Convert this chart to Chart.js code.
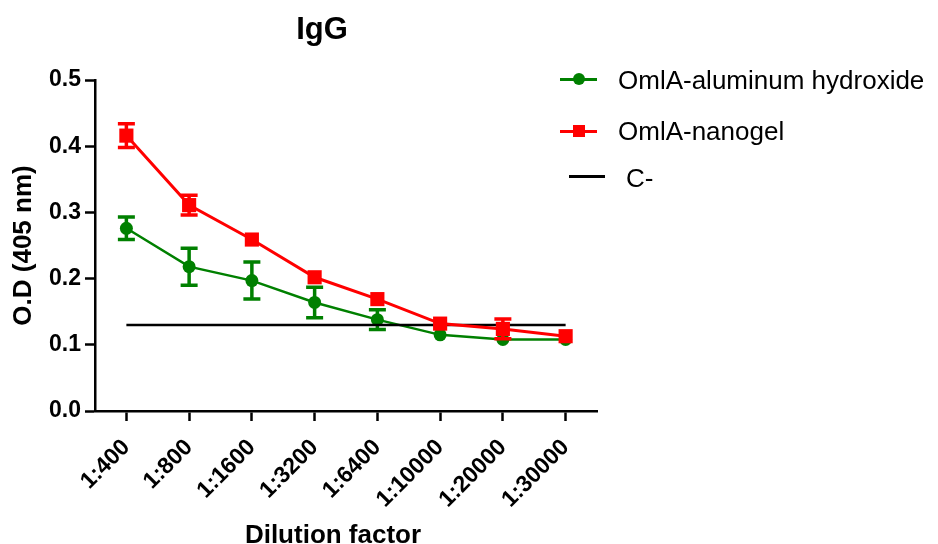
<!DOCTYPE html>
<html>
<head>
<meta charset="utf-8">
<script src="https://cdn.jsdelivr.net/npm/chart.js@4.4.1/dist/chart.umd.min.js"></script>
<style>
  body { margin: 0; background: #fff; }
  #wrap { position: relative; width: 938px; height: 544px; font-family: "Liberation Sans", Arial, sans-serif; color: #000; }
  #chart { position: absolute; left: 0; top: 0; }
  .txt { position: absolute; white-space: nowrap; }
  .title { left: 222px; width: 200px; top: 13px; text-align: center; font-weight: bold; font-size: 31px; line-height: 31px; }
  .xtitle { left: 233px; width: 200px; top: 521px; text-align: center; font-weight: bold; font-size: 26px; line-height: 26px; }
  .leg { font-size: 26px; line-height: 26px; }
  .mark { position: absolute; }
</style>
</head>
<body>
<div id="wrap">
  <canvas id="chart" width="938" height="544"></canvas>
  <div class="txt title">IgG</div>
  <div class="txt xtitle">Dilution factor</div>

  <!-- legend -->
  <div class="mark" style="left:560px;top:77.5px;width:37px;height:3px;background:#008000"></div>
  <div class="mark" style="left:573px;top:73px;width:12px;height:12px;border-radius:50%;background:#008000"></div>
  <div class="txt leg" style="left:618px;top:66.5px">OmlA-aluminum hydroxide</div>

  <div class="mark" style="left:560px;top:129.5px;width:37px;height:3px;background:#ff0000"></div>
  <div class="mark" style="left:573px;top:125px;width:12px;height:12px;background:#ff0000"></div>
  <div class="txt leg" style="left:618px;top:118px">OmlA-nanogel</div>

  <div class="mark" style="left:569px;top:175px;width:36px;height:3px;background:#000"></div>
  <div class="txt leg" style="left:626px;top:164.5px">C-</div>
</div>

<script>
// values
const dilutions = ["1:400", "1:800", "1:1600", "1:3200", "1:6400", "1:10000", "1:20000", "1:30000"];
const aluminumMean = [0.276, 0.218, 0.197, 0.164, 0.138, 0.115, 0.108, 0.108];
const aluminumErr  = [0.017, 0.028, 0.028, 0.023, 0.015, 0, 0, 0];
const nanogelMean  = [0.416, 0.311, 0.259, 0.202, 0.169, 0.132, 0.124, 0.113];
const nanogelErr   = [0.018, 0.015, 0, 0, 0, 0, 0.015, 0];
const controlLevel = [0.13, 0.13, 0.13, 0.13, 0.13, 0.13, 0.13, 0.13];

const FONT = '"Liberation Sans", Arial, sans-serif';

// mean +/- error whiskers, drawn under each dataset's markers
const errorBars = {
  id: "errorBars",
  beforeDatasetDraw(chart, args) {
    const ds = chart.data.datasets[args.index];
    if (!ds.errors) return;
    const yScale = chart.scales.y;
    const ctx = chart.ctx;
    const cap = 8.5;
    ctx.save();
    ctx.strokeStyle = ds.borderColor;
    ctx.lineWidth = 3.5;
    args.meta.data.forEach((pt, i) => {
      if (!ds.errors[i]) return;
      const top = yScale.getPixelForValue(ds.data[i] + ds.errors[i]);
      const bot = yScale.getPixelForValue(ds.data[i] - ds.errors[i]);
      ctx.beginPath();
      ctx.moveTo(pt.x, top); ctx.lineTo(pt.x, bot);
      ctx.moveTo(pt.x - cap, top); ctx.lineTo(pt.x + cap, top);
      ctx.moveTo(pt.x - cap, bot); ctx.lineTo(pt.x + cap, bot);
      ctx.stroke();
    });
    ctx.restore();
  }
};

new Chart(document.getElementById("chart"), {
  type: "line",
  data: {
    labels: dilutions,
    datasets: [
      {
        label: "OmlA-nanogel",
        data: nanogelMean,
        errors: nanogelErr,
        borderColor: "#ff0000",
        backgroundColor: "#ff0000",
        borderWidth: 3,
        pointStyle: "rect",
        pointRadius: 10,
        pointBorderWidth: 0,
        order: 1
      },
      {
        label: "C-",
        data: controlLevel,
        borderColor: "#000000",
        borderWidth: 2.5,
        pointRadius: 0,
        order: 2
      },
      {
        label: "OmlA-aluminum hydroxide",
        data: aluminumMean,
        errors: aluminumErr,
        borderColor: "#008000",
        backgroundColor: "#008000",
        borderWidth: 2.5,
        pointStyle: "circle",
        pointRadius: 6.5,
        pointBorderWidth: 0,
        order: 3
      }
    ]
  },
  options: {
    responsive: false,
    animation: false,
    layout: { padding: { top: 80, right: 341, bottom: 0, left: 0 } },
    plugins: {
      legend: { display: false },
      title: { display: false },
      tooltip: { enabled: false }
    },
    scales: {
      x: {
        offset: true,
        afterFit: (scale) => { scale.height = 133; },
        grid: { drawOnChartArea: false, tickLength: 10, tickWidth: 2.5, tickColor: "#000" },
        border: { color: "#000", width: 2.5 },
        ticks: {
          autoSkip: false,
          minRotation: 45,
          maxRotation: 45,
          padding: 13,
          color: "#000",
          font: { family: FONT, size: 23, weight: "bold" }
        }
      },
      y: {
        min: 0,
        max: 0.5,
        afterFit: (scale) => { scale.width = 95; },
        grid: { drawOnChartArea: false, tickLength: 10, tickWidth: 2.5, tickColor: "#000" },
        border: { color: "#000", width: 2.5 },
        ticks: {
          stepSize: 0.1,
          padding: 4,
          color: "#000",
          font: { family: FONT, size: 23, weight: "bold" },
          callback: (v) => Number(v).toFixed(1)
        },
        title: {
          display: true,
          text: "O.D (405 nm)",
          color: "#000",
          padding: { top: 8, bottom: 0 },
          font: { family: FONT, size: 26, weight: "bold" }
        }
      }
    }
  },
  plugins: [errorBars]
});
</script>
</body>
</html>
